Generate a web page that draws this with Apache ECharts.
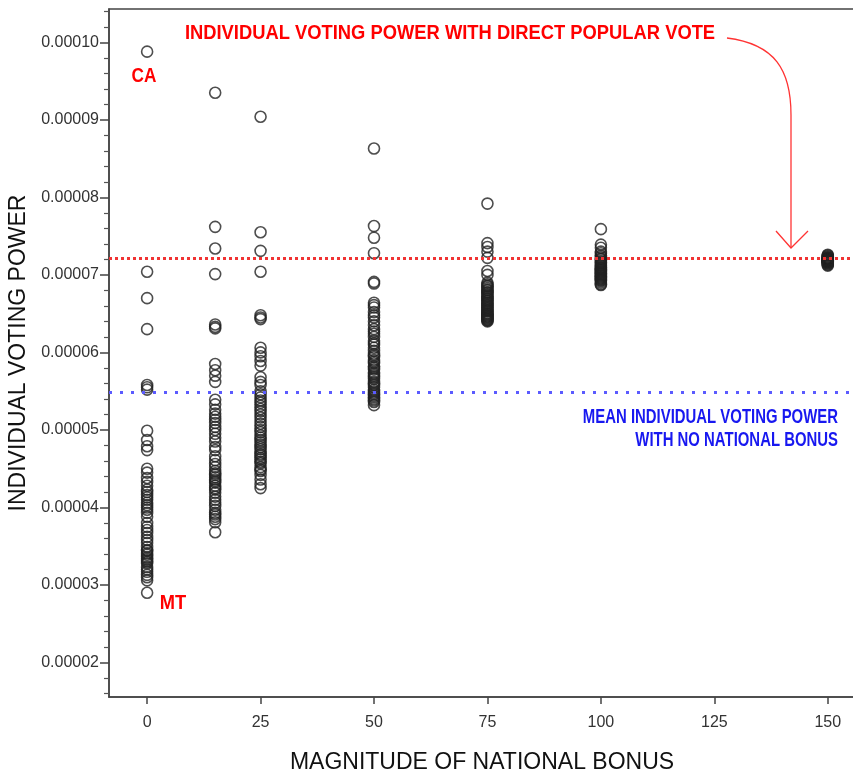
<!DOCTYPE html>
<html>
<head>
<meta charset="utf-8">
<script src="https://cdn.jsdelivr.net/npm/echarts@6/dist/echarts.min.js"></script>
<style>
  body { margin: 0; background: #fff; }
  #scatter { width: 853px; height: 777px; }
</style>
</head>
<body>
<div id="scatter"></div>
<script>
// voting power values are in units of 0.00001
var bonus = [0, 15, 25, 50, 75, 100, 150];

var power0 = [9.88, 7.04, 6.70, 6.30, 5.58, 5.55, 5.52, 4.99, 4.87, 4.79, 4.74,
    4.50, 4.45, 4.38, 4.33, 4.28, 4.23, 4.20, 4.16, 4.13, 4.10, 4.06, 4.03, 4.00,
    3.97, 3.93, 3.88, 3.80, 3.75, 3.71, 3.67, 3.62, 3.58, 3.54, 3.49, 3.45, 3.44,
    3.41, 3.39, 3.36, 3.34, 3.32, 3.30, 3.28, 3.23, 3.20, 3.17, 3.13, 3.10, 3.06, 2.90];
var power15 = [9.35, 7.62, 7.34, 7.01, 6.36, 6.33, 6.31, 5.85, 5.77, 5.70, 5.62,
    5.39, 5.33, 5.26, 5.21, 5.17, 5.13, 5.09, 5.04, 5.00, 4.95, 4.90, 4.85, 4.78,
    4.74, 4.66, 4.61, 4.56, 4.52, 4.47, 4.44, 4.42, 4.39, 4.36, 4.34, 4.32, 4.28,
    4.25, 4.23, 4.19, 4.14, 4.10, 4.06, 4.02, 3.97, 3.93, 3.91, 3.88, 3.85, 3.81, 3.68];
var power25 = [9.04, 7.55, 7.31, 7.04, 6.48, 6.45, 6.43, 6.06, 6.00, 5.95, 5.89,
    5.83, 5.68, 5.62, 5.58, 5.50, 5.46, 5.42, 5.38, 5.35, 5.31, 5.27, 5.24, 5.20,
    5.16, 5.12, 5.08, 5.04, 5.00, 4.97, 4.93, 4.90, 4.87, 4.84, 4.81, 4.78, 4.75,
    4.72, 4.69, 4.67, 4.64, 4.62, 4.59, 4.57, 4.52, 4.49, 4.47, 4.42, 4.36, 4.30, 4.25];
var power50 = [8.63, 7.63, 7.48, 7.28, 6.91, 6.89, 6.64, 6.61, 6.58, 6.52, 6.48,
    6.45, 6.40, 6.35, 6.30, 6.27, 6.24, 6.20, 6.15, 6.12, 6.10, 6.06, 6.02, 5.98,
    5.96, 5.94, 5.90, 5.88, 5.86, 5.82, 5.80, 5.78, 5.74, 5.72, 5.70, 5.68, 5.66,
    5.62, 5.60, 5.58, 5.55, 5.52, 5.50, 5.48, 5.46, 5.44, 5.42, 5.40, 5.38, 5.36, 5.32];
var power75 = [7.92, 7.41, 7.36, 7.30, 7.22, 7.05, 7.00, 6.90, 6.88, 6.86, 6.85,
    6.83, 6.81, 6.80, 6.78, 6.77, 6.75, 6.73, 6.72, 6.70, 6.69, 6.67, 6.66, 6.64,
    6.63, 6.61, 6.60, 6.58, 6.57, 6.55, 6.54, 6.53, 6.51, 6.50, 6.49, 6.48, 6.47,
    6.46, 6.45, 6.44, 6.43, 6.42, 6.41, 6.40];
var power100 = [7.59, 7.39, 7.35, 7.30, 7.28, 7.25, 7.23, 7.21, 7.20, 7.18, 7.16,
    7.15, 7.13, 7.12, 7.10, 7.09, 7.08, 7.07, 7.06, 7.05, 7.04, 7.03, 7.02, 7.01,
    7.00, 6.99, 6.98, 6.97, 6.96, 6.95, 6.94, 6.93, 6.92, 6.90, 6.88, 6.87];
var power150 = [7.26, 7.25, 7.24, 7.23, 7.22, 7.22, 7.21, 7.21, 7.20, 7.20, 7.20,
    7.19, 7.19, 7.19, 7.18, 7.18, 7.18, 7.17, 7.17, 7.16, 7.16, 7.15, 7.14, 7.13, 7.12];

var directVote = 7.21;   // direct popular vote
var meanNoBonus = 5.48;  // mean with no national bonus

var xTicks = [0, 25, 50, 75, 100, 125, 150];
var yTicks = [2, 3, 4, 5, 6, 7, 8, 9, 10];
var yMinorTicks = [1.6, 1.8, 2.2, 2.4, 2.6, 2.8, 3.2, 3.4, 3.6, 3.8, 4.2, 4.4, 4.6, 4.8,
    5.2, 5.4, 5.6, 5.8, 6.2, 6.4, 6.6, 6.8, 7.2, 7.4, 7.6, 7.8, 8.2, 8.4, 8.6, 8.8,
    9.2, 9.4, 9.6, 9.8, 10.2, 10.4];

var columns = [power0, power15, power25, power50, power75, power100, power150];
var points = [];
for (var c = 0; c < columns.length; c++) {
    for (var k = 0; k < columns[c].length; k++) {
        points.push([bonus[c], columns[c][k]]);
    }
}

var sans = "'Liberation Sans', Arial, sans-serif";

// condensed bold note text (squeezed horizontally)
function note(text, x, y, color, size, squeeze, align) {
    return {
        type: 'text', x: x, y: y, scaleX: squeeze,
        style: {
            text: text, fill: color, font: 'bold ' + size + 'px ' + sans,
            textAlign: align, textVerticalAlign: 'middle'
        }
    };
}

var myChart = echarts.init(document.getElementById('scatter'));
myChart.setOption({
    animation: false,
    backgroundColor: '#fff',
    grid: {
        left: 109, right: -2, top: 9, bottom: 80,
        outerBoundsMode: 'none',
        show: true, borderColor: '#444', borderWidth: 1.5
    },
    xAxis: {
        type: 'value',
        min: -8.4,
        max: 156,
        name: 'MAGNITUDE OF NATIONAL BONUS',
        nameLocation: 'middle',
        nameGap: 54,
        nameTextStyle: {fontFamily: sans, fontSize: 23, color: '#111'},
        axisLine: {onZero: false, lineStyle: {color: '#444', width: 1.5}},
        axisTick: {length: 7, lineStyle: {color: '#444', width: 1.5}, customValues: xTicks},
        axisLabel: {fontFamily: sans, fontSize: 16, color: '#333', margin: 18, customValues: xTicks},
        splitLine: {show: false}
    },
    yAxis: [{
        type: 'value',
        min: 1.555,
        max: 10.43,
        name: 'INDIVIDUAL VOTING POWER',
        nameLocation: 'middle',
        nameGap: 76,
        nameTextStyle: {fontFamily: sans, fontSize: 23, color: '#111'},
        axisLine: {onZero: false, lineStyle: {color: '#444', width: 1.5}},
        axisTick: {length: 9, lineStyle: {color: '#444', width: 1.5}, customValues: yTicks},
        axisLabel: {
            fontFamily: sans, fontSize: 16, color: '#333', margin: 10, customValues: yTicks,
            formatter: function (v) { return (v / 100000).toFixed(5); }
        },
        splitLine: {show: false}
    }, {
        // minor ticks only
        type: 'value',
        min: 1.555,
        max: 10.43,
        position: 'left',
        axisLine: {show: false, onZero: false},
        axisTick: {length: 5, lineStyle: {color: '#555', width: 1.2}, customValues: yMinorTicks},
        axisLabel: {show: false},
        splitLine: {show: false}
    }],
    series: [{
        type: 'scatter',
        symbol: 'circle',
        symbolSize: 11,
        itemStyle: {color: 'rgba(0,0,0,0)', borderColor: '#222', borderWidth: 1.6},
        data: points,
        markLine: {
            silent: true,
            symbol: 'none',
            label: {show: false},
            data: [
                {yAxis: directVote, lineStyle: {color: '#f03333', width: 3, type: [3, 3]}},
                {yAxis: meanNoBonus, lineStyle: {color: '#5b5bff', width: 3, type: [3, 8]}}
            ]
        }
    }],
    graphic: [
        note('INDIVIDUAL VOTING POWER WITH DIRECT POPULAR VOTE', 450, 33, '#f00', 21, 0.874, 'center'),
        note('CA', 144, 76, '#f00', 21, 0.82, 'center'),
        note('MT', 173, 603, '#f00', 21, 0.87, 'center'),
        note('MEAN INDIVIDUAL VOTING POWER', 838, 417, '#1818f0', 21, 0.71, 'right'),
        note('WITH NO NATIONAL BONUS', 838, 440, '#1818f0', 21, 0.71, 'right'),
        // arrow to the direct vote line
        {type: 'bezierCurve', shape: {x1: 727, y1: 38, cpx1: 775, cpy1: 44, cpx2: 791, cpy2: 70, x2: 791, y2: 115},
            style: {stroke: '#f33', lineWidth: 1.3, fill: null}},
        {type: 'line', shape: {x1: 791, y1: 115, x2: 791, y2: 248},
            style: {stroke: '#f33', lineWidth: 1.3}},
        {type: 'polyline', shape: {points: [[776, 231], [791, 248], [808, 231]]},
            style: {stroke: '#f33', lineWidth: 1.3, fill: null}}
    ]
});
</script>
</body>
</html>
